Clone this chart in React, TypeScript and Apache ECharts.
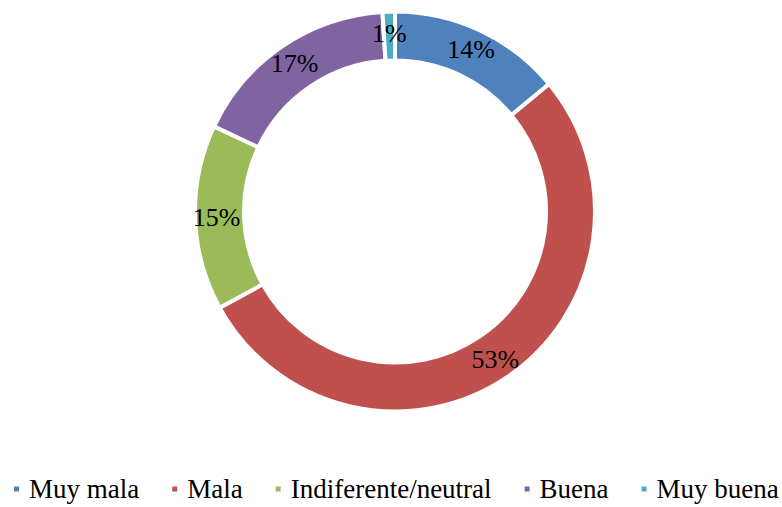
import React, { useEffect, useRef } from "react";
import * as echarts from "echarts";

const categories = ["Muy mala", "Mala", "Indiferente/neutral", "Buena", "Muy buena"];
const values = [14, 53, 15, 17, 1];
const colors = ["#4F81BD", "#C0504D", "#9BBB59", "#8064A2", "#4BACC6"];

const FONT = "Liberation Serif";

export default function App() {
  const ref = useRef<HTMLDivElement>(null);
  useEffect(() => {
    if (!ref.current) return;
    const chart = echarts.init(ref.current, undefined, { renderer: "svg" });
    chart.setOption({
      animation: false,
      color: colors,
      legend: {
        left: 12,
        top: 475,
        width: 769,
        padding: 0,
        icon: "rect",
        itemWidth: 7,
        itemHeight: 7,
        itemGap: 31,
        data: categories,
        textStyle: {
          fontFamily: FONT,
          fontSize: 27,
          color: "#000",
          lineHeight: 28,
          padding: [0, 0, 0, 4],
        },
      },
      series: [
        {
          type: "pie",
          center: [395, 211.5],
          radius: [151, 200],
          startAngle: 90,
          clockwise: true,
          avoidLabelOverlap: false,
          itemStyle: { borderColor: "#fff", borderWidth: 4 },
          label: {
            show: true,
            position: "inside",
            formatter: (p: any) => `${p.value}%`,
            fontFamily: FONT,
            fontSize: 26,
            color: "#000",
          },
          labelLine: { show: false },
          emphasis: { disabled: true },
          data: categories.map((name, i) => ({ name, value: values[i] })),
        },
      ],
    });
    return () => chart.dispose();
  }, []);
  return (
    <div
      ref={ref}
      style={{ position: "fixed", left: 0, top: 0, width: 782, height: 507, background: "#fff" }}
    />
  );
}
